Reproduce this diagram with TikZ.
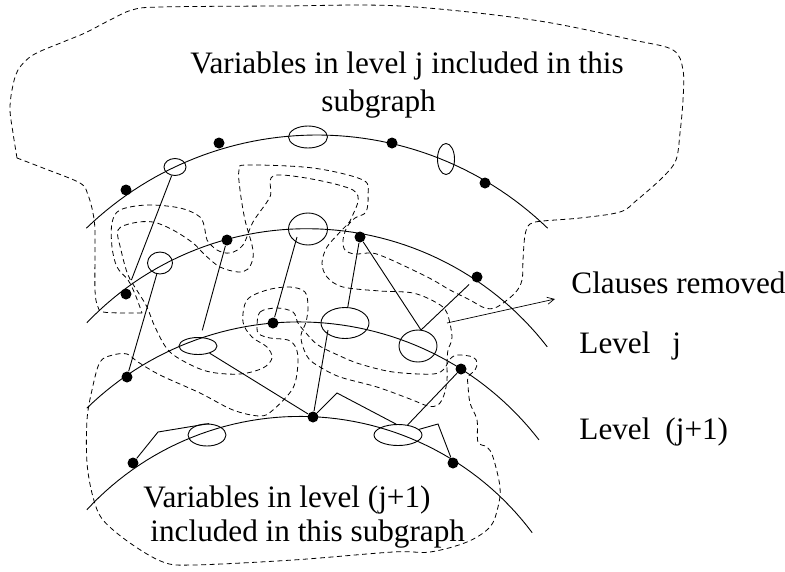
\documentclass[tikz,border=0pt]{standalone}
\usepackage{fontspec}
\setmainfont{Liberation Serif}
\usetikzlibrary{shapes.geometric,arrows.meta,calc}

\tikzset{
  dot/.style={circle,fill,inner sep=0pt,minimum size=11pt},
  var/.style={ellipse,draw,inner sep=0pt},
  bound/.style={line width=0.8pt,dash pattern=on 5pt off 3.5pt},
  lbl/.style={anchor=base west,inner sep=0pt,font=\fontsize{31.2}{36}\selectfont}
}

\begin{document}
\begin{tikzpicture}[x=1pt,y=-1pt,line width=0.9pt]
\useasboundingbox (0,0) rectangle (785,571);

% the four level curves
\draw plot[domain=226:314,samples=60] ({317+332*cos(\x)},{467+332*sin(\x)});
\draw plot[domain=223.7:322.3,samples=60] ({306.7+304*cos(\x)},{532.7+304*sin(\x)});
\draw plot[domain=225.7:322.3,samples=60] ({298.8+303.5*cos(\x)},{625.4+303.5*sin(\x)});
\draw plot[domain=222.7:323.2,samples=60] ({300+290*cos(\x)},{706.4+290*sin(\x)});

% variables on the curves
\node[dot] (a1) at (126,190) {};
\node[dot] (a2) at (219,143) {};
\node[dot] (a3) at (392,143) {};
\node[dot] (a4) at (485,183) {};
\node[var,minimum width=22pt,minimum height=17pt] (ea1) at (175,167) {};
\node[var,minimum width=39pt,minimum height=22pt] (ea2) at (308,137) {};
\node[var,minimum width=17pt,minimum height=31pt] (ea3) at (446,159) {};

\node[dot] (b1) at (126,294) {};
\node[dot] (b2) at (227,240) {};
\node[dot] (b3) at (360,237) {};
\node[dot] (b4) at (477,277) {};
\node[var,minimum width=25pt,minimum height=22pt] (eb1) at (160,263) {};
\node[var,minimum width=39pt,minimum height=32pt] (eb2) at (308,229) {};

\node[dot] (c1) at (127,377) {};
\node[dot] (c2) at (273,323) {};
\node[dot] (c3) at (461,369) {};
\node[var,minimum width=38pt,minimum height=17pt] (ec1) at (198,346) {};
\node[var,minimum width=48pt,minimum height=31pt] (ec2) at (345,323) {};
\node[var,minimum width=38pt,minimum height=32pt] (ec3) at (418,346) {};

\node[dot] (d1) at (133,463) {};
\node[dot] (d2) at (313,417) {};
\node[dot] (d3) at (453,463) {};
\node[var,minimum width=38pt,minimum height=22pt] (ed1) at (207,435) {};
\node[var,minimum width=48pt,minimum height=21pt] (ed2) at (398,435) {};

% clause edges
\coordinate (eb2in) at (297,237);
\coordinate (ec2in) at (328,330);
\coordinate (ec3top) at (421,330);
\coordinate (kinka) at (337,393);
\coordinate (kinkb) at (438,424);
\coordinate (kinkc) at (158,432);
\draw[shorten >=9pt] (ea1) -- (b1);
\draw (eb1) -- (c1);
\draw[shorten >=7pt] (b2) -- (ec1);
\draw (eb2in) -- (c2);
\draw (b3) -- (ec2);
\draw[shorten >=5pt] (b3) -- (ec3top) -- (b4);
\draw (ec2in) -- (d2);
\draw (ec1) -- (d2);
\draw (d2) -- (kinka) -- (ed2.100);
\draw (ed2) -- (c3);
\draw (ed2.15) -- (kinkb) -- (d3);
\draw (d1) -- (kinkc) -- (ed1.80);

% subgraph of level j
\draw[bound] plot[smooth,tension=0.55] coordinates {(17,158) (13,133) (10,110) (12,90) (18,70) (33,55) (63,42) (85,33) (110,20) (132,10) (160,7) (280,6) (400,6) (533,20) (633,40) (673,50) (683,70) (683,100) (680,133) (676,160) (663,177) (637,200) (620,212) (580,218) (543,221) (530,224) (525,235) (523,260) (522,280) (515,293) (497,307) (485,308) (470,300) (450,290) (433,280) (413,270) (387,258) (372,253) (355,254) (345,250) (343,240) (347,227) (355,218) (366,212) (368,195) (363,180) (313,168) (247,165) (239,170) (240,190) (245,220) (252,245) (253,258) (248,269) (238,272) (220,267) (205,255) (193,243) (173,230) (153,222) (133,223) (118,230) (121,250) (128,275) (138,292) (147,307) (155,327) (168,350) (187,363) (210,372) (240,374) (263,368) (272,358) (267,347) (252,337) (243,322) (247,300) (267,290) (290,287) (305,292) (308,307) (306,322) (301,335) (303,347) (309,359) (320,367) (340,377) (377,387) (410,399) (428,406) (438,405) (444,395) (447,380) (447,363) (448,350) (452,337) (447,313) (437,303) (413,293) (380,291) (343,287) (327,277) (322,263) (327,247) (340,232) (352,217) (353,190) (277,175) (270,197) (253,222) (243,245) (230,253) (217,250) (207,240) (205,230) (200,217) (180,208) (147,205) (120,210) (112,223) (112,247) (117,267) (128,280) (135,294) (142,313)};
\draw[bound] plot[smooth,tension=0.55] coordinates {(142,313) (123,313) (103,312) (98,307) (95,290) (95,233) (93,213) (88,195) (80,183) (43,168) (17,158)};

% subgraph of level j+1
\draw[bound] plot[smooth cycle,tension=0.55] coordinates {(257,327) (260,312) (277,308) (293,312) (298,323) (306,333) (318,345) (340,356) (360,364) (393,372) (433,374) (445,368) (449,360) (457,355) (473,357) (477,363) (475,370) (468,377) (468,385) (470,403) (477,420) (478,442) (487,447) (493,457) (500,487) (498,507) (490,527) (467,542) (430,552) (393,552) (293,560) (193,565) (163,562) (130,543) (103,520) (93,497) (87,463) (87,420) (92,390) (100,362) (113,355) (127,354) (138,362) (160,375) (200,393) (233,410) (260,416) (273,410) (293,388) (298,363) (296,348) (288,340) (270,338) (259,334)};

% clauses arrow
\coordinate (clfrom) at (447,323);
\coordinate (clto) at (555,299);
\draw[-{Straight Barb[length=7pt,width=7pt]},line width=0.7pt] (clfrom) -- (clto);

% texts
\node[lbl] (vartopa) at (190,73) {Variables in level j included in this};
\node[lbl] (vartopb) at (321,111) {subgraph};
\node[lbl] (varbota) at (143,507) {Variables in level (j+1)};
\node[lbl] (varbotb) at (150,541) {included in this subgraph};
\node[lbl] (clauses) at (571,293) {Clauses removed};
\node[lbl] (levj) at (579,353) {Level\hspace{22pt}j};
\node[lbl] (levjj) at (579,439) {Level\hspace{15pt}(j+1)};
\end{tikzpicture}
\end{document}
